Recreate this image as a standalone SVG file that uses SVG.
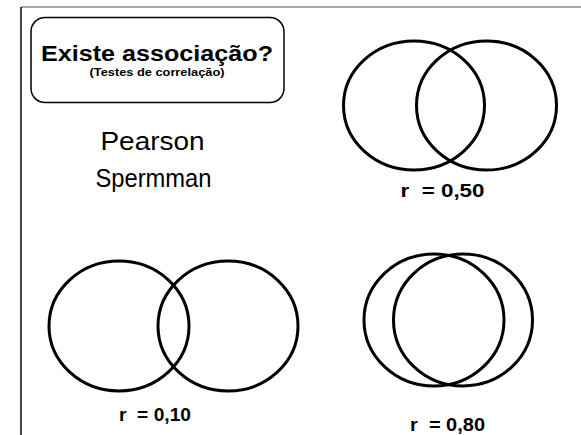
<svg xmlns="http://www.w3.org/2000/svg" width="581" height="435" viewBox="0 0 581 435">
<style>
.c{fill:none;stroke:#000;stroke-width:3}
.b{font-family:"Liberation Sans",Arial,sans-serif;font-weight:bold;fill:#000}
.n{font-family:"Liberation Sans",Arial,sans-serif;fill:#000}
.r{font-family:"Liberation Sans",Arial,sans-serif;font-weight:bold;fill:#000;font-size:18.5px}
</style>
<rect width="581" height="435" fill="#fff"/>
<g id="frame">
<line x1="21" y1="7" x2="581" y2="7" stroke="#888" stroke-width="1.5"/>
<line x1="21" y1="7" x2="21" y2="435" stroke="#000" stroke-width="1.5"/>
</g>
<g id="title">
<rect x="31" y="17.5" width="253" height="85" rx="14" fill="#fff" stroke="#000" stroke-width="1.5"/>
<text class="b" x="41" y="61" font-size="22" textLength="232" lengthAdjust="spacingAndGlyphs">Existe associação?</text>
<text class="b" x="89.5" y="76" font-size="11" textLength="135" lengthAdjust="spacingAndGlyphs">(Testes de correlação)</text>
</g>
<g id="methods">
<text class="n" x="100.5" y="150" font-size="25" textLength="104" lengthAdjust="spacingAndGlyphs">Pearson</text>
<text class="n" x="95.5" y="187" font-size="25" textLength="116" lengthAdjust="spacingAndGlyphs">Spermman</text>
</g>
<g id="venn50">
<ellipse class="c" cx="414" cy="105.5" rx="70.5" ry="64.5"/>
<ellipse class="c" cx="486.5" cy="105.5" rx="70" ry="64.5"/>
<text class="r" x="400.5" y="197" textLength="84" lengthAdjust="spacingAndGlyphs" xml:space="preserve">r  = 0,50</text>
</g>
<g id="venn10">
<ellipse class="c" cx="119" cy="326" rx="70" ry="65"/>
<ellipse class="c" cx="228" cy="326" rx="70" ry="65"/>
<text class="r" x="119" y="421" textLength="72" lengthAdjust="spacingAndGlyphs" xml:space="preserve">r  = 0,10</text>
</g>
<g id="venn80">
<ellipse class="c" cx="434" cy="320" rx="70" ry="66"/>
<ellipse class="c" cx="463" cy="320" rx="69.5" ry="66"/>
<text class="r" x="410" y="431" textLength="75" lengthAdjust="spacingAndGlyphs" xml:space="preserve">r  = 0,80</text>
</g>
</svg>
